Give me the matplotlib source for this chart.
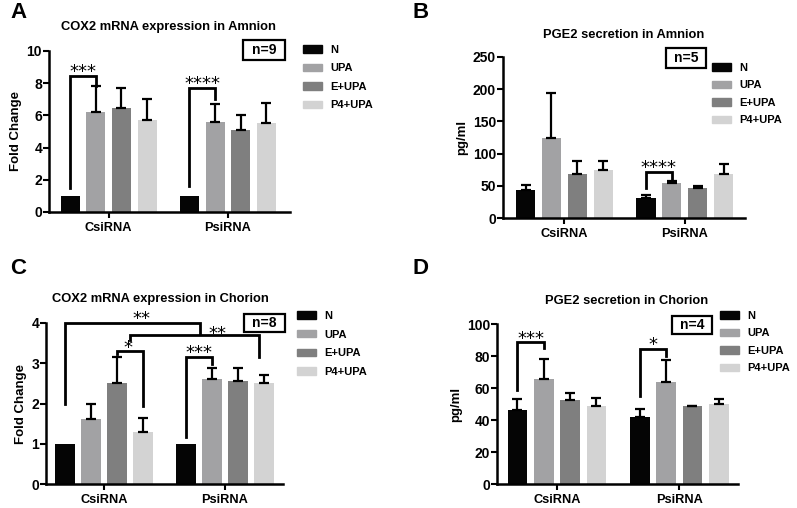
import numpy as np
import matplotlib.pyplot as plt
from matplotlib.patches import Patch, Rectangle

plt.rcParams['font.family'] = ['Liberation Sans', 'DejaVu Sans']
plt.rcParams['font.weight'] = 'bold'

groups = ['CsiRNA', 'PsiRNA']
treatments = ['N', 'UPA', 'E+UPA', 'P4+UPA']
colors = ['#050505', '#a2a2a4', '#7f7f7f', '#d3d3d3']

# mean and upper error per treatment, [CsiRNA, PsiRNA]
a_mean = [[1.0, 1.0], [6.2, 5.6], [6.45, 5.1], [5.7, 5.5]]
a_err = [[0.0, 0.0], [1.6, 1.1], [1.25, 0.9], [1.3, 1.25]]
b_mean = [[43, 31], [124, 55], [69, 46], [75, 68]]
b_err = [[8, 4], [70, 2], [19, 3], [14, 16]]
c_mean = [[1.0, 1.0], [1.62, 2.62], [2.5, 2.55], [1.3, 2.5]]
c_err = [[0.0, 0.0], [0.38, 0.26], [0.65, 0.32], [0.33, 0.22]]
d_mean = [[46, 42], [65.5, 64], [52.5, 48.5], [49, 50]]
d_err = [[7, 5], [12.5, 13.5], [4.5, 0.5], [4.5, 3]]

W, H = 797, 508
fig = plt.figure(figsize=(W / 100, H / 100), dpi=100)

offs = np.array([-1.5, -0.5, 0.5, 1.5]) * 0.215
bw = 0.16


def px_axes(x0, x1, ytop, ybot):
    return fig.add_axes([x0 / W, 1 - ybot / H, (x1 - x0) / W, (ybot - ytop) / H])


def panel(box, xlim, ylim, yticks, means, errs, ylabel, title, tpos, letter, lpos, nbox, ntext, legpos, lsp):
    ax = px_axes(*box)
    x = np.arange(len(groups))
    for i, t in enumerate(treatments):
        ax.bar(x + offs[i], means[i], bw, color=colors[i], label=t)
        e = np.array(errs[i], dtype=float)
        ok = e > 0
        if ok.any():
            ax.errorbar((x + offs[i])[ok], np.array(means[i])[ok], yerr=[np.zeros(ok.sum()), e[ok]],
                        fmt='none', ecolor='black', elinewidth=1.6, capthick=1.6, capsize=3.5)
    ax.set_xlim(*xlim)
    ax.set_ylim(*ylim)
    ax.set_yticks(yticks)
    ax.set_xticks(x)
    ax.set_xticklabels(groups, fontsize=9.2, fontweight='bold')
    ax.tick_params(axis='y', labelsize=10, width=1.5, length=4, pad=1)
    ax.tick_params(axis='x', width=1.5, length=4, pad=3)
    for s in ['top', 'right']:
        ax.spines[s].set_visible(False)
    for s in ['left', 'bottom']:
        ax.spines[s].set_linewidth(1.8)
    ax.set_ylabel(ylabel, fontsize=9.5, fontweight='bold', labelpad=3)
    fig.text(tpos[0] / W, 1 - tpos[1] / H, title, ha='center', va='center', fontsize=9.3, fontweight='bold')
    fig.text(lpos[0] / W, 1 - lpos[1] / H, letter, ha='left', va='center', fontsize=16, fontweight='bold')
    bx0, by0, bx1, by1 = nbox
    fig.patches.append(Rectangle((bx0 / W, 1 - by1 / H), (bx1 - bx0) / W, (by1 - by0) / H,
                                 transform=fig.transFigure, fc='white', ec='black', lw=1.6))
    fig.text((bx0 + bx1) / 2 / W, 1 - (by0 + by1) / 2 / H, ntext, ha='center', va='center',
             fontsize=10, fontweight='bold')
    handles = [Patch(color=c, label=t) for c, t in zip(colors, treatments)]
    fig.legend(handles=handles, loc='upper left', bbox_to_anchor=(legpos[0] / W, 1 - legpos[1] / H),
               frameon=False, handlelength=1.7, handleheight=0.62,
               labelspacing=lsp, handletextpad=0.75, borderpad=0, borderaxespad=0,
               prop=dict(weight='bold', size=8))
    return ax


def bracket(ax, x1, y1, x2, y2, ytop, stars, sx, sy, fs=13):
    ax.plot([x1, x1, x2, x2], [y1, ytop, ytop, y2], color='black', lw=2, clip_on=False,
            solid_joinstyle='miter')
    # asterisk glyph sits high in the em box, so shift baseline down to centre it on sy
    ax.annotate(stars, (sx, sy), xytext=(0, -0.48 * fs), textcoords='offset points',
                ha='center', va='baseline', fontsize=fs, fontweight='normal',
                family='DejaVu Sans', annotation_clip=False)


# A
axA = panel((49, 290, 51, 212), (-0.5, 1.52), (0, 10), [0, 2, 4, 6, 8, 10], a_mean, a_err,
            'Fold Change', 'COX2 mRNA expression in Amnion', (168, 27), 'A', (10, 13),
            (243, 40, 285, 60), 'n=9', (303, 45), 0.76)
bracket(axA, offs[0], 1.5, offs[1], 7.8, 8.45, '***', (offs[0] + offs[1]) / 2, 8.95)
bracket(axA, 1 + offs[0], 1.6, 1 + offs[1], 7.0, 7.7, '****', 1 + (offs[0] + offs[1]) / 2, 8.2)

# B
axB = panel((503, 745, 57, 218), (-0.51, 1.5), (0, 250), [0, 50, 100, 150, 200, 250], b_mean, b_err,
            'pg/ml', 'PGE2 secretion in Amnion', (624, 35), 'B', (412, 13),
            (666, 48, 706, 68), 'n=5', (712, 63), 0.67)
bracket(axB, 1 + offs[0], 47, 1 + offs[1], 58, 71, '****', 1 + (offs[0] + offs[1]) / 2, 84)

# C
axC = panel((46, 283, 323, 484), (-0.48, 1.48), (0, 4), [0, 1, 2, 3, 4], c_mean, c_err,
            'Fold Change', 'COX2 mRNA expression in Chorion', (160, 299), 'C', (10, 268),
            (244, 314, 285, 332), 'n=8', (297, 311), 0.78)
bracket(axC, offs[0], 2.0, 0.79, 3.73, 4.0, '**', 0.31, 4.18)
bracket(axC, 0.215, 3.58, 1.28, 3.15, 3.69, '**', 0.94, 3.83)
bracket(axC, offs[2], 3.23, offs[3], 1.95, 3.31, '*', 0.2, 3.46)
bracket(axC, 1 + offs[0], 1.16, 1 + offs[1], 2.98, 3.15, '***', 1 + (offs[0] + offs[1]) / 2, 3.35)

# D
axD = panel((497, 738, 324, 484), (-0.49, 1.48), (0, 100), [0, 20, 40, 60, 80, 100], d_mean, d_err,
            'pg/ml', 'PGE2 secretion in Chorion', (627, 301), 'D', (412, 268),
            (672, 316, 712, 334), 'n=4', (720, 311), 0.67)
bracket(axD, offs[0], 58.75, offs[1], 84.8, 88.5, '***', (offs[0] + offs[1]) / 2, 93)
bracket(axD, 1 + offs[0], 55, 1 + offs[1], 80, 84.4, '*', 1 + (offs[0] + offs[1]) / 2, 89)

fig.savefig('out.png', dpi=100)
